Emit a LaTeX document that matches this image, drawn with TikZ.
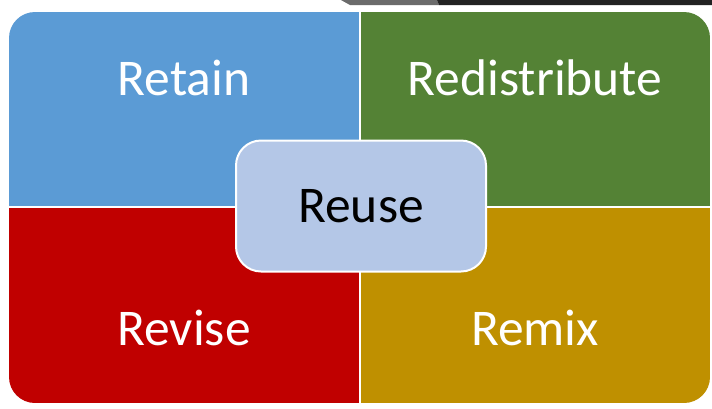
\documentclass[tikz,border=0pt]{standalone}
\usepackage{fontspec}
\setmainfont{Carlito}
\definecolor{qblue}{HTML}{5B9BD5}
\definecolor{qgreen}{HTML}{548235}
\definecolor{qred}{HTML}{C00000}
\definecolor{qgold}{HTML}{BF9000}
\definecolor{qcenter}{HTML}{B4C7E7}
\definecolor{tabgray}{HTML}{6B6B6B}
\definecolor{tabdark}{HTML}{222222}
\begin{document}
\begin{tikzpicture}[x=1pt,y=-1pt,
  lbl/.style={font=\fontsize{51.5}{56}\selectfont, text=white, inner sep=0pt, anchor=center},
  centerbox/.style={fill=qcenter, draw=white, line width=2pt, rounded corners=25pt, minimum width=250pt, minimum height=131pt, inner sep=0pt, font=\fontsize{51.5}{56}\selectfont, text=black}]
\useasboundingbox (0,0) rectangle (712,408);
\fill[white] (0,0) rectangle (712,408);
% top tab artifact
\fill[tabgray] (341,0) -- (437,0) -- (439,5) -- (350,5) -- cycle;
\fill[tabdark] (437,0) -- (712,0) -- (712,5) -- (439,5) -- cycle;
% quadrants
\begin{scope}
\clip[rounded corners=26pt] (9,12) rectangle (710,403);
\fill[qblue] (9,12) rectangle (359,207);
\fill[qgreen] (359,12) rectangle (710,207);
\fill[qred] (9,207) rectangle (359,403);
\fill[qgold] (359,207) rectangle (710,403);
\draw[white, line width=2pt] (360,12) -- (360,403);
\draw[white, line width=2pt] (9,207) -- (710,207);
\end{scope}
\node[lbl] (retain) at (184,78) {Retain};
\node[lbl] (redistribute) at (535,78) {Redistribute};
\node[lbl] (revise) at (184,328) {Revise};
\node[lbl] (remix) at (535,328) {Remix};
\node[centerbox] (reuse) at (361,206) {Reuse};
\end{tikzpicture}
\end{document}
